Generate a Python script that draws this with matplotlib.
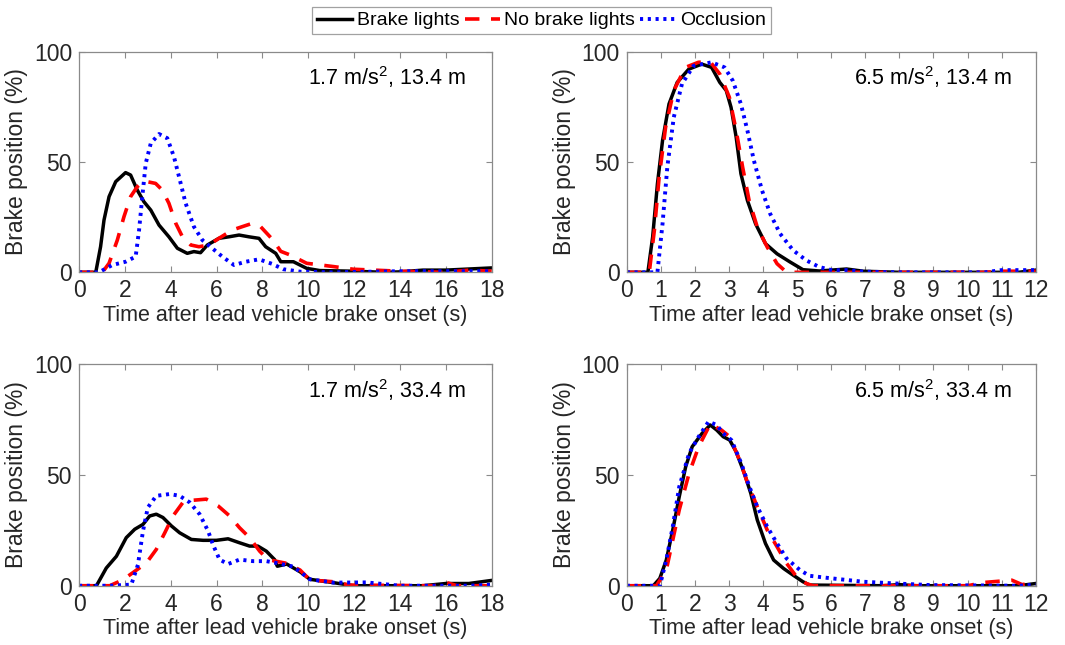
import numpy as np
import matplotlib
matplotlib.use('Agg')
import matplotlib.pyplot as plt

plt.rcParams['font.family'] = ['Liberation Sans', 'DejaVu Sans']
plt.rcParams['mathtext.fontset'] = 'custom'
plt.rcParams['mathtext.rm'] = 'Liberation Sans'
plt.rcParams['mathtext.it'] = 'Liberation Sans'

"""Mean brake pedal traces (%), per condition"""
# 1.7 m/s^2, 13.4 m
t_a_bl = [0, 0.73, 0.94, 1.09, 1.31, 1.6, 2.03, 2.25, 2.54, 2.83, 3.13, 3.49, 3.92, 4.29, 4.72, 5.01, 5.3,
          5.6, 6.1, 6.54, 6.98, 7.41, 7.85, 8.14, 8.58, 8.8, 9.35, 9.93, 10.5, 12, 13.3, 14, 15, 16, 17, 18]
y_a_bl = [0, 0, 11.6, 23.7, 34.3, 41.1, 45.2, 44.1, 37.3, 32, 28.2, 21.4, 16.1, 10.9, 8.6, 9.4, 8.9,
          12.4, 15.4, 16.1, 16.9, 16.1, 15.4, 11.6, 8.6, 4.8, 4.8, 1.8, 0.8, 0.5, 0, 0.2, 1, 1, 1.5, 2]
t_a_nb = [0, 1.02, 1.31, 1.67, 1.96, 2.25, 2.54, 2.83, 3.34, 3.63, 3.92, 4.22, 4.51, 4.87, 5.23, 5.67,
          6.1, 6.69, 7.12, 7.56, 7.92, 8.43, 8.8, 9.2, 9.93, 11.1, 11.96, 14, 16, 17, 18]
y_a_nb = [0, 0, 4.1, 14.6, 25.2, 34.3, 38.8, 41.4, 40.3, 37.3, 31.3, 22.2, 16.1, 12.4, 11.6, 12.4,
          15.4, 19.2, 20.7, 22.2, 20.7, 15, 9.5, 7.9, 4.1, 2.6, 1.4, 0.5, 0, 1, 0.5]
t_a_oc = [0, 0.87, 1.45, 2.03, 2.47, 2.62, 2.76, 2.91, 3.13, 3.49, 3.85, 4.14, 4.36, 4.65, 5.01, 5.38,
          5.81, 6.25, 6.76, 7.27, 7.85, 8.43, 8.91, 9.64, 11, 14, 15, 18]
y_a_oc = [0, 0, 3.3, 4.8, 7.1, 19.2, 34.3, 49.4, 58.5, 62.7, 60.8, 52.4, 43.4, 31.3, 20.7, 14.6,
          10.9, 7.1, 3.3, 4.8, 5.9, 3.8, 1.4, 0.3, 0, 0.5, 0.5, 0.5]

# 6.5 m/s^2, 13.4 m
t_b_bl = [0, 0.62, 0.76, 0.9, 1.05, 1.24, 1.48, 1.82, 2.2, 2.49, 2.73, 2.92, 3.06, 3.21, 3.35, 3.54,
          3.78, 4.07, 4.41, 4.79, 5.17, 5.65, 6.45, 6.94, 8, 11.5, 12]
y_b_bl = [0, 0, 16, 40.1, 59.7, 76.3, 86.1, 92.1, 94.4, 92.9, 86.1, 82.4, 74.8, 61.3, 44.7, 32.6,
          22, 13, 8.4, 4.7, 1.2, 0.6, 1.5, 0.5, 0, 0, 1]
t_b_nb = [0, 0.66, 0.81, 0.95, 1.14, 1.38, 1.72, 2.1, 2.44, 2.73, 3.01, 3.21, 3.4, 3.59, 3.83, 4.12,
          4.41, 4.69, 8, 10.5, 11, 12]
y_b_nb = [0, 0, 19, 43.1, 65.8, 82.4, 92.9, 95.2, 95.6, 89.9, 79.4, 64.3, 47.7, 32.6, 20.5, 11.5,
          3.9, 0, 0, 0, 0.5, 0.5]
t_b_oc = [0, 0.9, 1.05, 1.19, 1.38, 1.62, 1.96, 2.49, 2.87, 3.11, 3.35, 3.54, 3.73, 3.97, 4.21, 4.5,
          4.88, 5.27, 5.65, 6.04, 6.45, 6.94, 8, 10.5, 11, 12]
y_b_oc = [0, 0, 22, 47.7, 70.3, 85.4, 93.6, 95.2, 92.9, 86.9, 76.3, 64.3, 50.7, 37.1, 26.5, 17.5,
          10, 5.4, 2.4, 0.9, 1, 0.3, 0, 0, 1, 1]

# 1.7 m/s^2, 33.4 m
t_c_bl = [0, 0.76, 1.19, 1.63, 2.06, 2.43, 2.79, 3.08, 3.37, 3.66, 4.03, 4.39, 4.9, 5.41, 5.99, 6.5,
          7.0, 7.44, 7.8, 8.17, 8.53, 8.65, 9.06, 9.64, 10.07, 11.09, 11.96, 15, 16, 17, 18]
y_c_bl = [0, 0, 8, 13.3, 21.7, 25.5, 27.7, 31.5, 32.3, 30.8, 27, 23.9, 20.9, 20.5, 20.5, 21.2,
          19.4, 17.9, 17.9, 15.6, 11.8, 8.8, 9.8, 6.3, 2.9, 1.4, 0, 0, 1, 1, 2.4]
t_c_nb = [0, 1.34, 1.92, 2.43, 2.94, 3.37, 3.74, 4.1, 4.53, 4.97, 5.55, 6.06, 6.57, 7.0, 7.44, 7.88,
          8.24, 9.06, 9.64, 10.07, 11.09, 11.8, 15.5, 16, 16.5, 18]
y_c_nb = [0, 0, 2.7, 6.5, 10.3, 16.4, 23.9, 31.5, 37.6, 38.6, 39.1, 36.1, 31.5, 26.2, 21.7, 15.6,
          11.8, 10.1, 7.1, 2.6, 1.8, 0.3, 0, 1.5, 0, 0]
t_c_oc = [0, 1.34, 2.28, 2.57, 2.79, 3.0, 3.37, 3.95, 4.39, 4.83, 5.26, 5.63, 5.84, 6.13, 6.5, 7.0,
          7.59, 8.17, 8.6, 9.35, 10.07, 11.09, 12.54, 14, 17, 18]
y_c_oc = [0, 0, 0.5, 9.5, 24.7, 35.3, 40.6, 41.4, 40.6, 37.6, 32.3, 24.7, 18.6, 11.8, 9.8, 11.8,
          11.1, 11.1, 10.3, 8.6, 2.9, 1.4, 1.5, 0, 0, 0.5]

# 6.5 m/s^2, 33.4 m
t_d_bl = [0, 0.78, 0.97, 1.16, 1.35, 1.54, 1.73, 1.92, 2.21, 2.45, 2.64, 2.83, 3.02, 3.21, 3.45, 3.64,
          3.83, 4.07, 4.31, 4.6, 4.88, 5.17, 5.36, 7.5, 8, 8.5, 11.5, 12]
y_d_bl = [0, 0, 3.3, 11.6, 25.2, 40.2, 53.8, 62.8, 68.8, 72.6, 70.3, 67.3, 65.8, 60.5, 50.8, 41.7,
          29.7, 19.1, 11.6, 7.8, 4.8, 1.8, 0.3, 0, 0.5, 0, 0, 1]
t_d_nb = [0, 0.87, 1.16, 1.35, 1.54, 1.83, 2.11, 2.45, 2.78, 3.02, 3.31, 3.55, 3.83, 4.12, 4.41, 4.69,
          4.98, 5.27, 5.46, 10, 10.5, 11.3, 11.6, 12]
y_d_nb = [0, 0, 7.1, 20.6, 34.2, 50.8, 62.8, 73, 70.3, 67.3, 56.8, 46.2, 35.7, 25.2, 17.6, 10.1,
          4.1, 1, 0, 0, 1.5, 2.5, 0.5, 1.5]
t_d_oc = [0, 0.97, 1.16, 1.35, 1.54, 1.83, 2.11, 2.4, 2.64, 2.83, 3.07, 3.36, 3.6, 3.83, 4.12, 4.41,
          4.69, 5.08, 5.36, 5.74, 6.03, 6.94, 7.92, 8.9, 11.5, 12]
y_d_oc = [0, 0, 11.6, 26.7, 44.7, 59.8, 67.3, 74.1, 72.6, 68.8, 65.8, 55.3, 44.7, 35.7, 26.7, 19.1,
          12.3, 7.1, 4.5, 3.8, 3.3, 1.8, 1, 0.3, 0, 0.5]

labels = ['Brake lights', 'No brake lights', 'Occlusion']
titles = ['1.7 m/s$^2$, 13.4 m', '6.5 m/s$^2$, 13.4 m', '1.7 m/s$^2$, 33.4 m', '6.5 m/s$^2$, 33.4 m']
xmax = [18, 12, 18, 12]
xstep = [2, 1, 2, 1]

panels = [
    [(t_a_bl, y_a_bl), (t_a_nb, y_a_nb), (t_a_oc, y_a_oc)],
    [(t_b_bl, y_b_bl), (t_b_nb, y_b_nb), (t_b_oc, y_b_oc)],
    [(t_c_bl, y_c_bl), (t_c_nb, y_c_nb), (t_c_oc, y_c_oc)],
    [(t_d_bl, y_d_bl), (t_d_nb, y_d_nb), (t_d_oc, y_d_oc)],
]

styles = [dict(color='k', ls='-', lw=2.5),
          dict(color='#ff0000', ls=(0, (4, 3.2)), lw=2.6),
          dict(color='#0000ff', ls=(0, (0.8, 1.2)), lw=2.8)]

# axes rectangles [left, bottom, width, height]
rects = [[0.0742, 0.5778, 0.3875, 0.342],
         [0.5885, 0.5778, 0.384, 0.342],
         [0.0742, 0.0919, 0.3875, 0.3433],
         [0.5885, 0.0919, 0.384, 0.3433]]

fig = plt.figure(figsize=(10.65, 6.45), dpi=100, facecolor='w')
grey = '#8a8a8a'
handles = []
for i in range(4):
    ax = fig.add_axes(rects[i])
    for j, (t, y) in enumerate(panels[i]):
        h, = ax.plot(t, y, label=labels[j], solid_joinstyle='round', **styles[j])
        if i == 0:
            handles.append(h)
    ax.set_xlim(0, xmax[i])
    ax.set_ylim(0, 100)
    ax.set_xticks(np.arange(0, xmax[i] + 1, xstep[i]))
    ax.set_yticks([0, 50, 100])
    ax.tick_params(direction='in', length=4, width=0.8, color=grey, labelsize=16.5,
                   labelcolor='#262626', top=True, right=True, pad=5)
    for spine in ax.spines.values():
        spine.set_color(grey)
        spine.set_linewidth(0.9)
    ax.set_xlabel('Time after lead vehicle brake onset (s)', fontsize=15.5, color='#262626', labelpad=2)
    ax.set_ylabel('Brake position (%)', fontsize=16.5, color='#262626', labelpad=4)
    ax.text(0.555, 0.885, titles[i], transform=ax.transAxes, fontsize=15.5, va='center', ha='left')

leg = fig.legend(handles=handles, labels=labels, loc='center', bbox_to_anchor=(0.5085, 0.968), ncol=3,
                 fontsize=14, frameon=True, fancybox=False, handlelength=1.8, handletextpad=0.25,
                 columnspacing=0.25, borderpad=0.25, borderaxespad=0)
leg.get_frame().set_edgecolor(grey)
leg.get_frame().set_linewidth(0.9)

fig.savefig('out.png', dpi=100)
